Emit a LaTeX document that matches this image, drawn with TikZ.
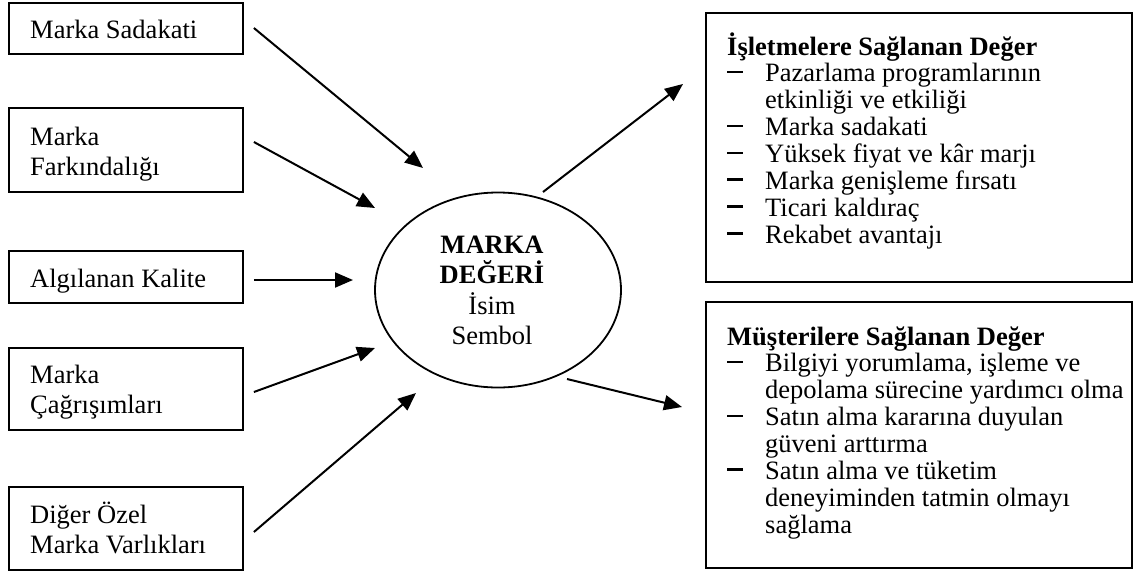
\documentclass[tikz,border=0pt]{standalone}
\usepackage{fontspec}
\setmainfont{Liberation Serif}
\usetikzlibrary{shapes.geometric,arrows.meta,calc}
\newcommand{\dashmark}{\makebox[38pt][l]{\raisebox{8.5pt}{\rule{16pt}{2.4pt}}}}
\newcommand{\contline}{\hspace*{38pt}}
\begin{document}
\begin{tikzpicture}[x=1pt,y=-1pt,
  lbox/.style={draw, line width=1.8pt, inner sep=0pt, minimum width=234pt},
  rbox/.style={draw, line width=1.8pt, inner sep=0pt, minimum width=426pt},
  lbl/.style={anchor=base west, inner sep=0pt, font=\fontsize{26.5}{30}\selectfont},
  rlbl/.style={anchor=base west, inner sep=0pt, font=\fontsize{26.5}{26.86}\selectfont},
  conn/.style={line width=2pt, -{Triangle[length=18pt,width=15pt]}}]
\useasboundingbox (0,0) rectangle (1143,571);
% left boxes
\node[lbox, minimum height=51pt] (b1) at (126,28.5) {};
\node[lbox, minimum height=84pt] (b2) at (126,150) {};
\node[lbox, minimum height=52pt] (b3) at (126,277) {};
\node[lbox, minimum height=82pt] (b4) at (126,389) {};
\node[lbox, minimum height=83pt] (b5) at (126,528.5) {};
\node[lbl] (l1) at (30,38) {\parbox[t]{210pt}{Marka Sadakati}};
\node[lbl] (l2) at (30,145) {\parbox[t]{210pt}{Marka\\Farkındalığı}};
\node[lbl] (l3) at (30,287) {\parbox[t]{210pt}{Algılanan Kalite}};
\node[lbl] (l4) at (30,383) {\parbox[t]{210pt}{Marka\\Çağrışımları}};
\node[lbl] (l5) at (30,523) {\parbox[t]{210pt}{Diğer Özel\\Marka Varlıkları}};
% central ellipse
\node[draw, ellipse, line width=1.8pt, inner sep=0pt, minimum width=246pt, minimum height=195pt] (me) at (498,290) {};
\node[anchor=base, inner sep=0pt, font=\fontsize{26.5}{30.5}\selectfont] (mt) at (492,253)
  {\parbox[t]{200pt}{\centering\textbf{MARKA}\\\textbf{DEĞERİ}\\İsim\\Sembol}};
% right boxes
\node[rbox, minimum height=269pt] (r1) at (919,147.5) {};
\node[rbox, minimum height=266pt] (r2) at (919,435) {};
\node[rlbl] (rt1) at (727,55) {\parbox[t]{400pt}{\textbf{İşletmelere Sağlanan Değer}\\
  \dashmark Pazarlama programlarının\\
  \contline etkinliği ve etkiliği\\
  \dashmark Marka sadakati\\
  \dashmark Yüksek fiyat ve kâr marjı\\
  \dashmark Marka genişleme fırsatı\\
  \dashmark Ticari kaldıraç\\
  \dashmark Rekabet avantajı}};
\node[rlbl] (rt2) at (727,345) {\parbox[t]{400pt}{\textbf{Müşterilere Sağlanan Değer}\\
  \dashmark Bilgiyi yorumlama, işleme ve\\
  \contline depolama sürecine yardımcı olma\\
  \dashmark Satın alma kararına duyulan\\
  \contline güveni arttırma\\
  \dashmark Satın alma ve tüketim\\
  \contline deneyiminden tatmin olmayı\\
  \contline sağlama}};
% arrow end points
\coordinate (t1) at (423,168);
\coordinate (t2) at (375,208);
\coordinate (t3) at (353,280);
\coordinate (t4) at (375,348);
\coordinate (t5) at (416,393);
\coordinate (s6) at ($(me.center)+(45,-98)$);
\coordinate (t6) at (683,84);
\coordinate (s7) at ($(me.center)+(69,89)$);
\coordinate (t7) at (682,407);
% connectors
\draw[conn] ($(b1.east)+(10,-0.5)$) -- (t1);
\draw[conn] ($(b2.east)+(10,-8)$) -- (t2);
\draw[conn] ($(b3.east)+(10,3)$) -- (t3);
\draw[conn] ($(b4.east)+(10,3)$) -- (t4);
\draw[conn] ($(b5.east)+(10,3.5)$) -- (t5);
\draw[conn] (s6) -- (t6);
\draw[conn] (s7) -- (t7);
\end{tikzpicture}
\end{document}
